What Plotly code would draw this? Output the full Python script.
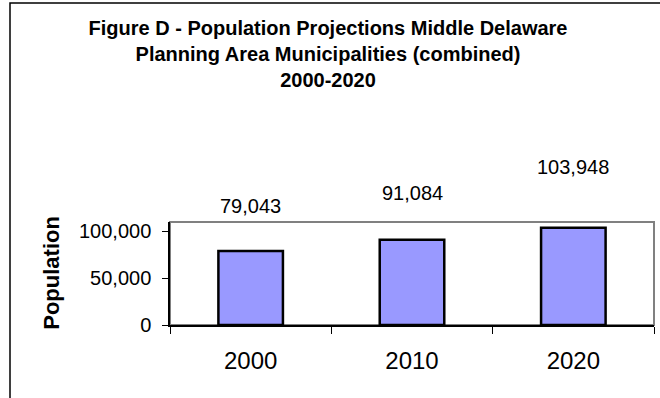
import plotly.graph_objects as go

# ---- data ----
years = ["2000", "2010", "2020"]
population = [79043, 91084, 103948]
label_offsets = [45, 47, 61]  # px above bar top for value labels
title_lines = ["Figure D - Population Projections Middle Delaware",
               "Planning Area Municipalities (combined)",
               "2000-2020"]
y_title = "Population"
y_ticks = [0, 50000, 100000]

# ---- layout geometry (pixels) ----
W, H = 660, 398
PL, PR, PT, PB = 170, 654, 222, 325.5
pw, ph = PR - PL, PB - PT

def px2x(px):
    return (px - PL) / pw

def px2y(py):
    return (PB - py) / ph

FONT = "Arial, 'Liberation Sans', sans-serif"

fig = go.Figure()
fig.add_trace(go.Bar(
    x=years, y=population, width=0.40,
    marker=dict(color="#9999FF", line=dict(color="black", width=2.5)),
    hoverinfo="skip",
))

annotations = []
for i, (v, off) in enumerate(zip(population, label_offsets)):
    annotations.append(dict(
        x=i, y=v, xref="x", yref="y", text=f"{v:,}", showarrow=False,
        yshift=off, yanchor="middle", xanchor="center",
        font=dict(family=FONT, size=20, color="black"),
    ))
annotations.append(dict(
    x=px2x(52), y=px2y(273), xref="paper", yref="paper", text=f"<b>{y_title}</b>",
    showarrow=False, textangle=-90, xanchor="center", yanchor="middle",
    font=dict(family=FONT, size=22, color="black"),
))

shapes = [
    # outer chart border (extends past the window on right/bottom)
    dict(type="rect", xref="paper", yref="paper",
         x0=px2x(10), x1=px2x(W + 20), y0=px2y(H + 20), y1=px2y(2),
         line=dict(color="black", width=1.5), layer="below"),
    # plot area frame
    dict(type="rect", xref="paper", yref="paper",
         x0=0, x1=1, y0=0, y1=1,
         line=dict(color="#808080", width=2), layer="below"),
]

fig.update_layout(
    width=W, height=H,
    margin=dict(l=PL, r=W - PR, t=PT, b=H - PB, autoexpand=False),
    paper_bgcolor="white", plot_bgcolor="white",
    showlegend=False,
    title=dict(text="<b>" + "<br>".join(title_lines) + "</b>",
               x=328 / W, xref="container", xanchor="center",
               y=1 - 35 / H, yref="container", yanchor="top",
               font=dict(family=FONT, size=20, color="black")),
    annotations=annotations,
    shapes=shapes,
)
fig.update_xaxes(
    type="category", range=[-0.5, 2.5], showline=True, linecolor="black", linewidth=1.5,
    ticks="outside", tickson="boundaries", ticklen=7, tickcolor="black",
    tickfont=dict(family=FONT, size=24, color="black"),
    ticklabelstandoff=13, showgrid=False, zeroline=False,
)
fig.update_yaxes(
    range=[0, 110000], tickvals=y_ticks, tickformat=",d",
    showline=True, linecolor="black", linewidth=1.5,
    ticks="outside", ticklen=6, tickcolor="black",
    tickfont=dict(family=FONT, size=20, color="black"),
    ticklabelstandoff=7, showgrid=False, zeroline=False,
)

fig.write_html("out.html")
